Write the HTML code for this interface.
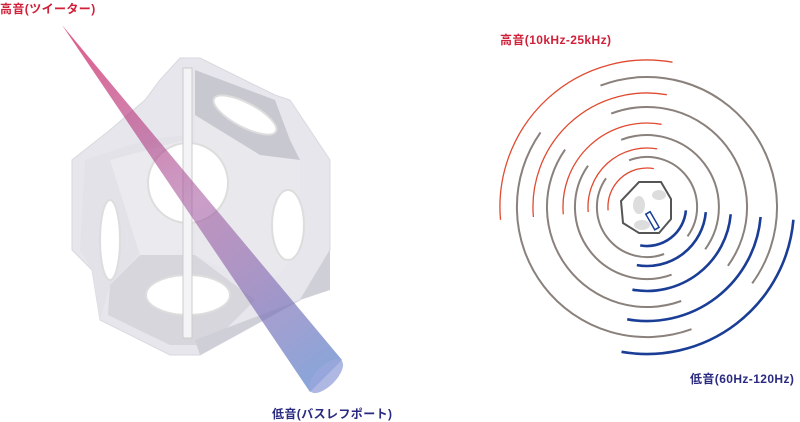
<!DOCTYPE html>
<html><head><meta charset="utf-8"><style>
html,body{margin:0;padding:0;background:#fff;width:800px;height:421px;overflow:hidden}
.t{position:absolute;font-family:"Liberation Sans","Noto Sans CJK JP",sans-serif;font-size:12px;font-weight:bold;white-space:nowrap;letter-spacing:0.4px}
</style></head><body>
<svg width="800" height="421" style="position:absolute;left:0;top:0">
<defs>
<linearGradient id="g" x1="62" y1="25" x2="325" y2="380" gradientUnits="userSpaceOnUse">
<stop offset="0" stop-color="#d8306a" stop-opacity="0.8"/>
<stop offset="0.5" stop-color="#a0509a" stop-opacity="0.55"/>
<stop offset="1" stop-color="#6a8fd0" stop-opacity="0.8"/>
</linearGradient>
</defs>
<polygon points="180,58 200,58 275,95 290,100 330,160 330,250 300,300 200,355 170,355 100,320 92,270 72,250 72,160 110,130 145,100 160,80" fill="#e6e6ec" stroke="#d8d8e0"/>
<polygon points="85,160 145,140 185,135 185,253 140,253 110,285 100,320 92,270 80,250" fill="#e2e2e8"/>
<polygon points="110,160 185,140 185,255 140,255" fill="#ebebef"/>
<polygon points="195,70 275,100 290,140 300,160 260,165 195,205" fill="#c8c8d0"/>
<polygon points="195,115 260,155 300,160 300,250 265,290 195,255" fill="#e8e8ed"/>
<polygon points="110,285 140,255 195,255 255,300 210,345 170,345 108,315" fill="#d6d6dc"/>
<polygon points="195,340 300,300 330,250 330,290 300,300 200,355" fill="#cfcfd8"/>
<ellipse cx="188" cy="183" rx="40" ry="40" fill="#fff" stroke="#ddd" stroke-width="2"/>
<ellipse cx="188" cy="295" rx="42" ry="20" fill="#fff" stroke="#ddd" stroke-width="2"/>
<ellipse cx="245" cy="115" rx="35" ry="12" transform="rotate(28 245 115)" fill="#fff" stroke="#ddd" stroke-width="2"/>
<ellipse cx="288" cy="225" rx="16" ry="35" fill="#fff" stroke="#ddd" stroke-width="2"/>
<ellipse cx="110" cy="240" rx="10" ry="40" fill="#fff" stroke="#ddd" stroke-width="2"/>
<rect x="183" y="68" width="9" height="270" fill="#f4f4f6" stroke="#ccc"/>
<polygon points="62,25 342,360 310,392" fill="url(#g)"/>
<ellipse cx="326" cy="376" rx="22" ry="10" transform="rotate(-45 326 376)" fill="#9aa6dc" opacity="0.8"/>
<g fill="none" transform="translate(647,207)">
<g stroke="#e04a30" stroke-width="1.3">
<path d="M-146.5,12.8 A147,147 0 0 1 25.5,-144.8"/>
<path d="M-113.6,10 A114,114 0 0 1 19.8,-112.3"/>
<path d="M-83.7,7.3 A84,84 0 0 1 14.6,-82.7"/>
<path d="M-58.8,5.1 A59,59 0 0 1 10.2,-58.1"/>
<path d="M-38.9,3.4 A39,39 0 0 1 6.8,-38.4"/>
</g>
<g stroke="#8a807c" stroke-width="2">
<path d="M-46.5,-121.4 A130,130 0 0 1 105.2,76.4"/>
<path d="M44.5,122.2 A130,130 0 0 1 -106.5,-74.6"/>
<path d="M-35.8,-93.4 A100,100 0 0 1 80.9,58.8"/>
<path d="M34.2,94 A100,100 0 0 1 -81.9,-57.4"/>
<path d="M-25.8,-67.2 A72,72 0 0 1 58.2,42.3"/>
<path d="M24.6,67.7 A72,72 0 0 1 -59,-41.3"/>
<path d="M-17.9,-46.7 A50,50 0 0 1 40.5,29.4"/>
<path d="M17.1,47 A50,50 0 0 1 -41,-28.7"/>
</g>
<g stroke="#1a3e96" stroke-width="2.6">
<path d="M146.4,12.8 A147,147 0 0 1 -25.5,144.8"/>
<path d="M113.6,10 A114,114 0 0 1 -19.8,112.3"/>
<path d="M83.7,7.3 A84,84 0 0 1 -14.6,82.7"/>
<path d="M58.8,5.1 A59,59 0 0 1 -10.2,58.1"/>
<path d="M38.9,3.4 A39,39 0 0 1 -6.8,38.4"/>
</g>
<polygon points="-8,-25 14,-25 24,-8 24,12 12,26 -8,26 -24,16 -26,-6" fill="#fff" stroke="#555" stroke-width="2"/>
<ellipse cx="-8" cy="-2" rx="6" ry="9" fill="#ddd"/>
<ellipse cx="12" cy="-12" rx="7" ry="5" fill="#ddd"/>
<ellipse cx="-5" cy="18" rx="8" ry="5" fill="#ddd"/>
<rect x="3" y="5" width="5" height="18" fill="none" stroke="#1a3e96" stroke-width="1.5" transform="rotate(-30 5 14)"/>
</g>
</svg>
<div class="t" style="left:0;top:0;color:#d0203a">高音(ツイーター)</div>
<div class="t" style="left:272px;top:405px;color:#2a2a80">低音(バスレフポート)</div>
<div class="t" style="left:500px;top:31px;color:#d0203a">高音(10kHz-25kHz)</div>
<div class="t" style="left:690px;top:370px;color:#2a2a80">低音(60Hz-120Hz)</div>
</body></html>
